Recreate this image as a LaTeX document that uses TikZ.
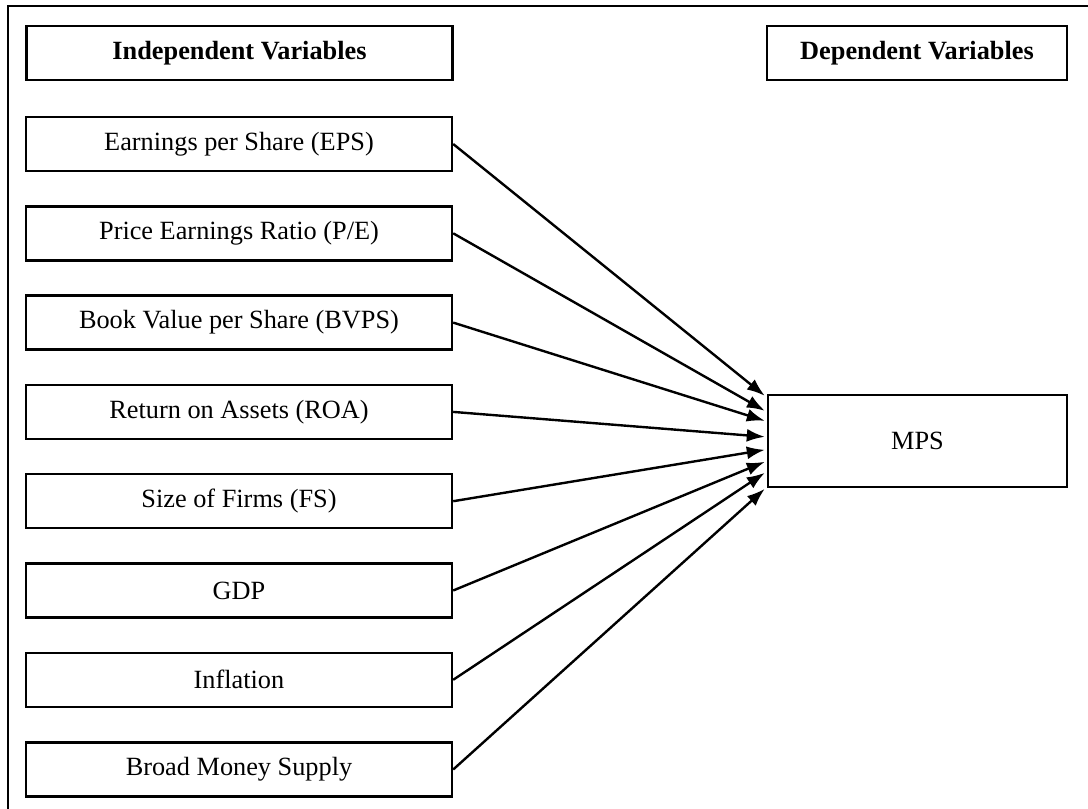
\documentclass[tikz,border=0pt]{standalone}
\usepackage{fontspec}
\setmainfont{Liberation Serif}
\usetikzlibrary{arrows.meta,calc}
\begin{document}
\begin{tikzpicture}[x=1pt,y=-1pt,
  varbox/.style={draw, line width=2.4pt, minimum width=426pt, minimum height=54pt, inner sep=0pt, font=\fontsize{26.3}{30}\selectfont},
  headbox/.style={varbox, font=\fontsize{26.3}{30}\selectfont\bfseries},
  conn/.style={line width=2.4pt, -{Latex[length=18pt,width=13pt]}}]
\clip (0,0) rectangle (1088,809);
\fill[white] (0,0) rectangle (1088,809);
\draw[line width=2.8pt] (8,830) -- (8,6) -- (1100,6);
\node[headbox] (ind) at (239.5,53) {Independent Variables};
\node[headbox, minimum width=300pt] (dep) at (917,53) {Dependent Variables};
\node[varbox, minimum width=299pt, minimum height=92pt] (mps) at (917.5,441) {MPS};
\node[varbox] (v1) at (239,144) {Earnings per Share (EPS)};
\node[varbox] (v2) at (239,233.3) {Price Earnings Ratio (P/E)};
\node[varbox] (v3) at (239,322.6) {Book Value per Share (BVPS)};
\node[varbox] (v4) at (239,411.9) {Return on Assets (ROA)};
\node[varbox] (v5) at (239,501.2) {Size of Firms (FS)};
\node[varbox] (v6) at (239,590.5) {GDP};
\node[varbox] (v7) at (239,679.8) {Inflation};
\node[varbox] (v8) at (239,769.5) {Broad Money Supply};
\coordinate (t1) at ($(mps.north west)+(-2,2)$);
\coordinate (t2) at ($(mps.north west)+(-2,17)$);
\coordinate (t3) at ($(mps.north west)+(-2,27)$);
\coordinate (t4) at ($(mps.north west)+(-2,43)$);
\coordinate (t5) at ($(mps.north west)+(-2,56)$);
\coordinate (t6) at ($(mps.north west)+(-2,68)$);
\coordinate (t7) at ($(mps.north west)+(-2,79)$);
\coordinate (t8) at ($(mps.north west)+(-2,95)$);
\foreach \i in {1,...,8} {\draw[conn] (v\i.east) -- (t\i);}
\end{tikzpicture}
\end{document}
